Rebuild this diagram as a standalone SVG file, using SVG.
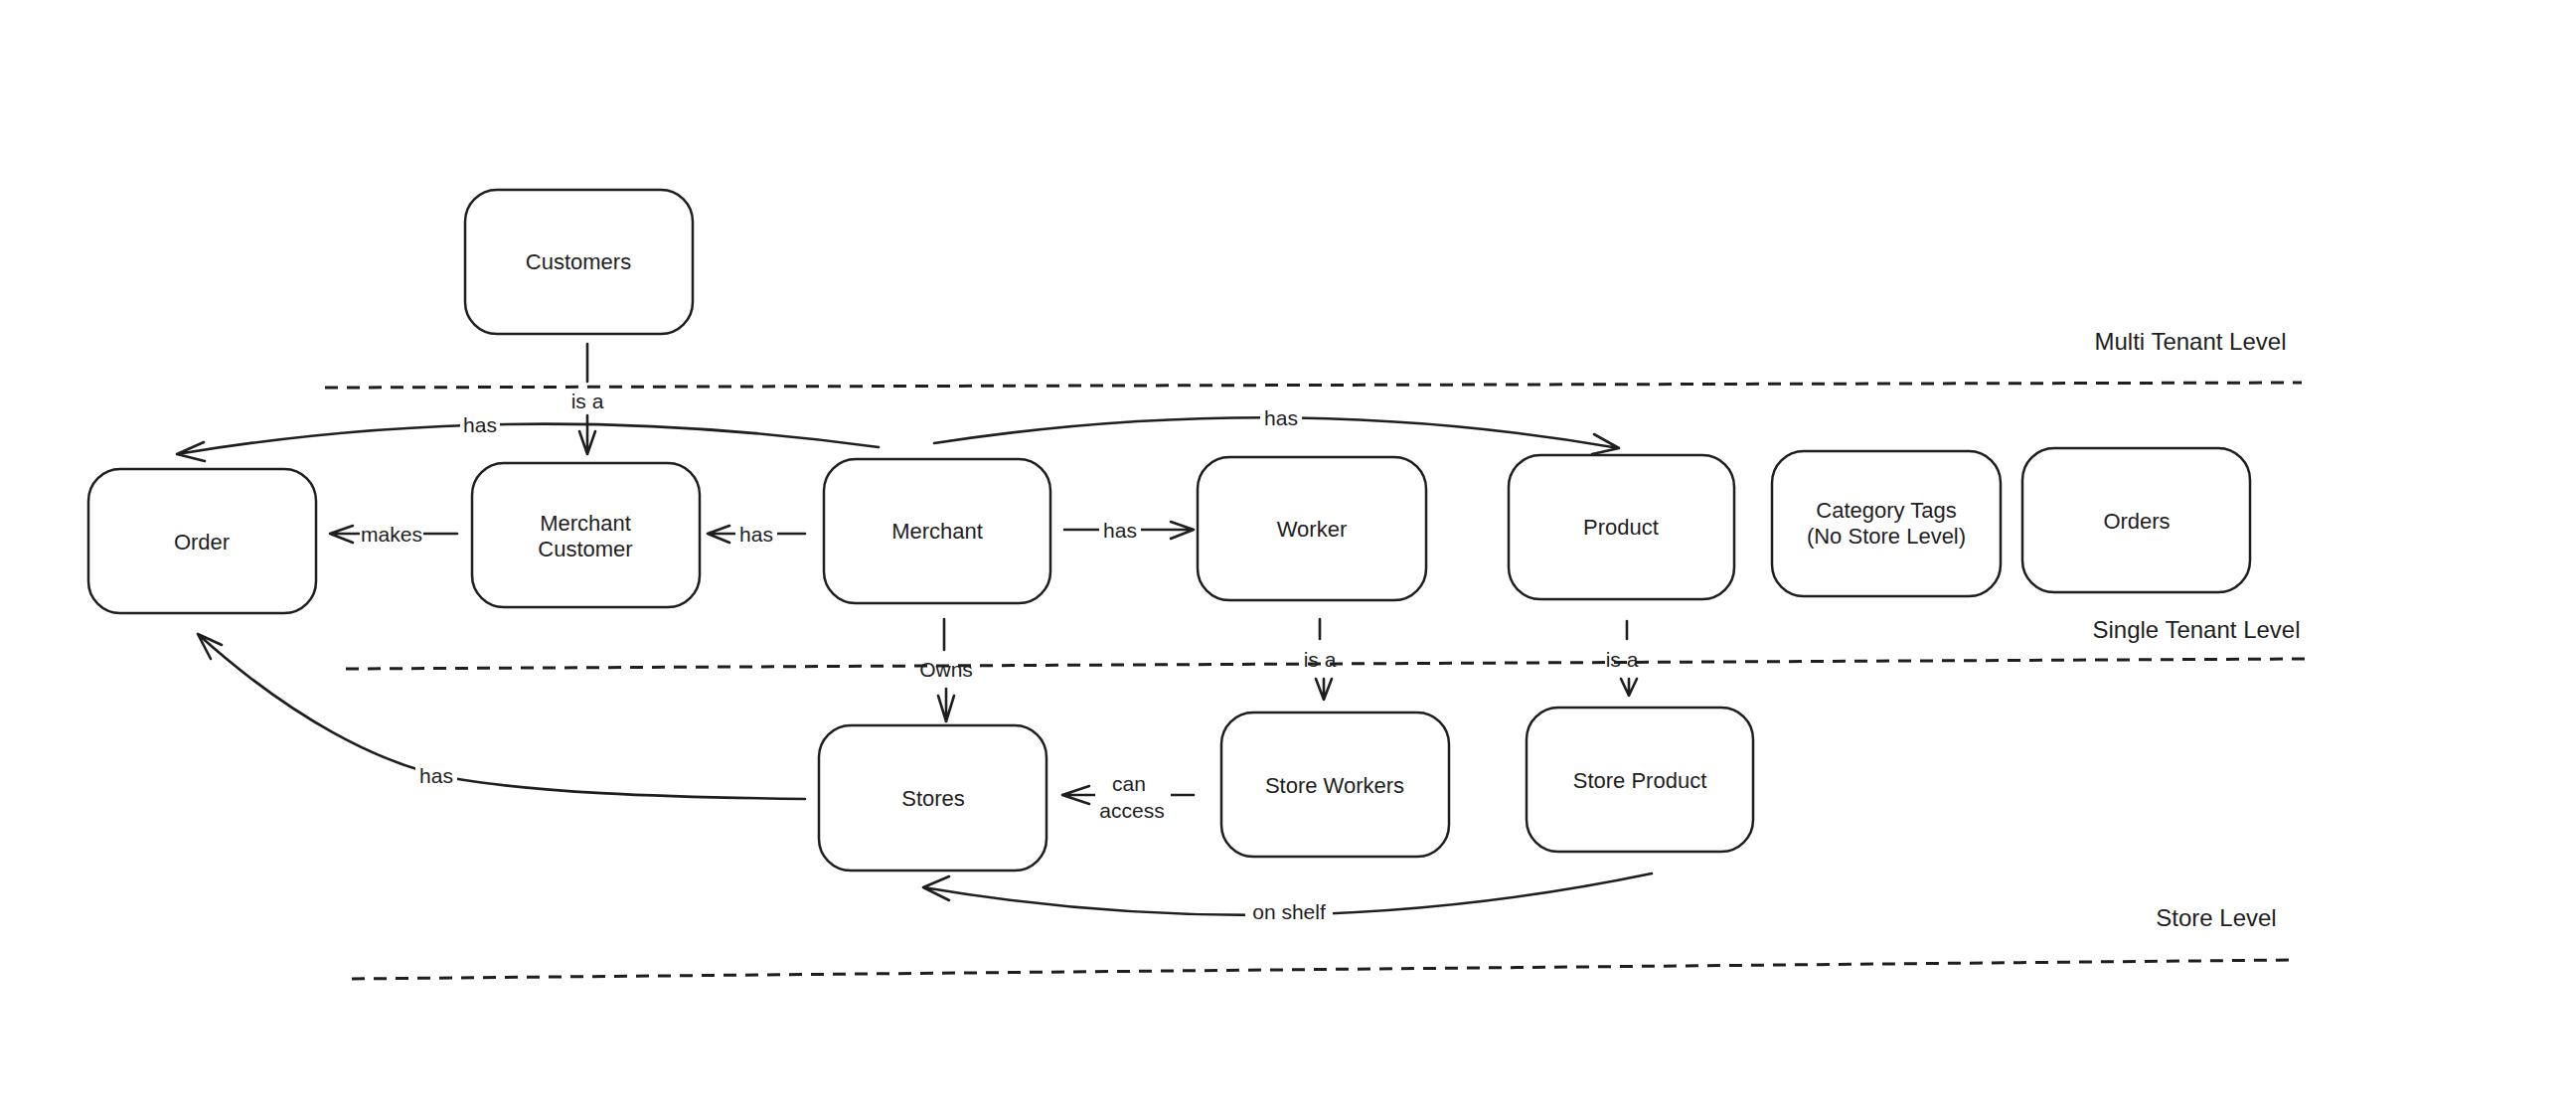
<svg xmlns="http://www.w3.org/2000/svg" width="2592" height="1116" viewBox="0 0 2592 1116">
<style>
.bg{fill:#ffffff}
.box{fill:none;stroke:#1e1e1e;stroke-width:2.5}
.dash{fill:none;stroke:#1e1e1e;stroke-width:3;stroke-dasharray:13 9}
.ln{fill:none;stroke:#1e1e1e;stroke-width:2.6;stroke-linecap:round;stroke-linejoin:round}
.lblbg{fill:#ffffff}
.nt{font-family:"Liberation Sans",Arial,sans-serif;font-size:22px;fill:#1e1e1e;text-anchor:middle;dominant-baseline:central}
.et{font-family:"Liberation Sans",Arial,sans-serif;font-size:21px;fill:#1e1e1e;text-anchor:middle;dominant-baseline:central}
.lv{font-family:"Liberation Sans",Arial,sans-serif;font-size:24px;fill:#1e1e1e;text-anchor:middle;dominant-baseline:central}
</style>
<rect class="bg" x="0" y="0" width="2592" height="1116"/>

<g id="levels">
<path class="dash" d="M327 390 L2316 385"/>
<path class="dash" d="M348 673 L2319 663"/>
<path class="dash" d="M354 985 L2306 966"/>
<text class="lv" x="2204" y="343">Multi Tenant Level</text>
<text class="lv" x="2210" y="633">Single Tenant Level</text>
<text class="lv" x="2230" y="923">Store Level</text>
</g>

<g id="node-customers"><rect class="box" x="468" y="191" width="229" height="145" rx="32"/><text class="nt" x="582" y="263">Customers</text></g>
<g id="node-order"><rect class="box" x="89" y="472" width="229" height="145" rx="32"/><text class="nt" x="203" y="545">Order</text></g>
<g id="node-merchant-customer"><rect class="box" x="475" y="466" width="229" height="145" rx="32"/><text class="nt" x="589" y="526">Merchant</text><text class="nt" x="589" y="552">Customer</text></g>
<g id="node-merchant"><rect class="box" x="829" y="462" width="228" height="145" rx="32"/><text class="nt" x="943" y="534">Merchant</text></g>
<g id="node-worker"><rect class="box" x="1205" y="460" width="230" height="144" rx="32"/><text class="nt" x="1320" y="532">Worker</text></g>
<g id="node-product"><rect class="box" x="1518" y="458" width="227" height="145" rx="32"/><text class="nt" x="1631" y="530">Product</text></g>
<g id="node-category-tags"><rect class="box" x="1783" y="454" width="230" height="146" rx="32"/><text class="nt" x="1898" y="513">Category Tags</text><text class="nt" x="1898" y="539">(No Store Level)</text></g>
<g id="node-orders"><rect class="box" x="2035" y="451" width="229" height="145" rx="32"/><text class="nt" x="2150" y="524">Orders</text></g>
<g id="node-stores"><rect class="box" x="824" y="730" width="229" height="146" rx="32"/><text class="nt" x="939" y="803">Stores</text></g>
<g id="node-store-workers"><rect class="box" x="1229" y="717" width="229" height="145" rx="32"/><text class="nt" x="1343" y="790">Store Workers</text></g>
<g id="node-store-product"><rect class="box" x="1536" y="712" width="228" height="145" rx="32"/><text class="nt" x="1650" y="785">Store Product</text></g>

<g id="connectors">
<!-- Customers -> Merchant Customer : is a -->
<path class="ln" d="M591 346 L591 384"/>
<path class="ln" d="M591 418 L591 457 M583 434 L591 457 L599 434"/>
<text class="et" x="591" y="403">is a</text>

<!-- Merchant -> Order : has (top curve) -->
<path class="ln" d="M884 450 Q520 400 178 457 M205 445 L178 457 L206 464"/>
<rect class="lblbg" x="463" y="414" width="40" height="26"/>
<text class="et" x="483" y="427">has</text>

<!-- Merchant -> Product : has (top curve) -->
<path class="ln" d="M940 446 Q1290 392 1629 451 M1604 437 L1629 451 L1602 457"/>
<rect class="lblbg" x="1268" y="407" width="42" height="26"/>
<text class="et" x="1289" y="420">has</text>

<!-- Merchant -> Merchant Customer : has -->
<path class="ln" d="M810 537 L712 537 M734 529 L712 537 L734 546"/>
<rect class="lblbg" x="740" y="525" width="42" height="24"/>
<text class="et" x="761" y="537">has</text>

<!-- Merchant Customer -> Order : makes -->
<path class="ln" d="M460 537 L332 537 M355 529 L332 537 L355 546"/>
<rect class="lblbg" x="362" y="525" width="64" height="24"/>
<text class="et" x="394" y="537">makes</text>

<!-- Merchant -> Worker : has -->
<path class="ln" d="M1071 533 L1201 533 M1178 525 L1201 533 L1178 542"/>
<rect class="lblbg" x="1106" y="521" width="42" height="24"/>
<text class="et" x="1127" y="533">has</text>

<!-- Merchant -> Stores : Owns -->
<path class="ln" d="M950 623 L950 654"/>
<path class="ln" d="M952 693 L952 726 M944 700 L952 726 L960 700"/>
<text class="et" x="952" y="673">Owns</text>

<!-- Worker -> Store Workers : is a -->
<path class="ln" d="M1328 623 L1328 643"/>
<path class="ln" d="M1332 683 L1332 704 M1324 683 L1332 704 L1340 683"/>
<text class="et" x="1328" y="663">is a</text>

<!-- Product -> Store Product : is a -->
<path class="ln" d="M1637 625 L1637 643"/>
<path class="ln" d="M1639 683 L1639 700 M1631 683 L1639 700 L1647 683"/>
<text class="et" x="1632" y="663">is a</text>

<!-- Store Workers -> Stores : can access -->
<path class="ln" d="M1201 800 L1069 800 M1096 791 L1069 800 L1096 809"/>
<rect class="lblbg" x="1102" y="772" width="76" height="58"/>
<text class="et" x="1136" y="788">can</text>
<text class="et" x="1139" y="815">access</text>

<!-- Store Product -> Stores : on shelf -->
<path class="ln" d="M1662 879 Q1297 955 929 893 M955 882 L929 893 L955 906"/>
<rect class="lblbg" x="1253" y="904" width="88" height="27"/>
<text class="et" x="1297" y="917">on shelf</text>

<!-- Stores -> Order : has (bottom curve) -->
<path class="ln" d="M810 804 C650 802 540 797 461 784 S290 720 199 638 M223 649 L199 638 L212 663"/>
<rect class="lblbg" x="418" y="767" width="42" height="26"/>
<text class="et" x="439" y="780">has</text>
</g>
</svg>
